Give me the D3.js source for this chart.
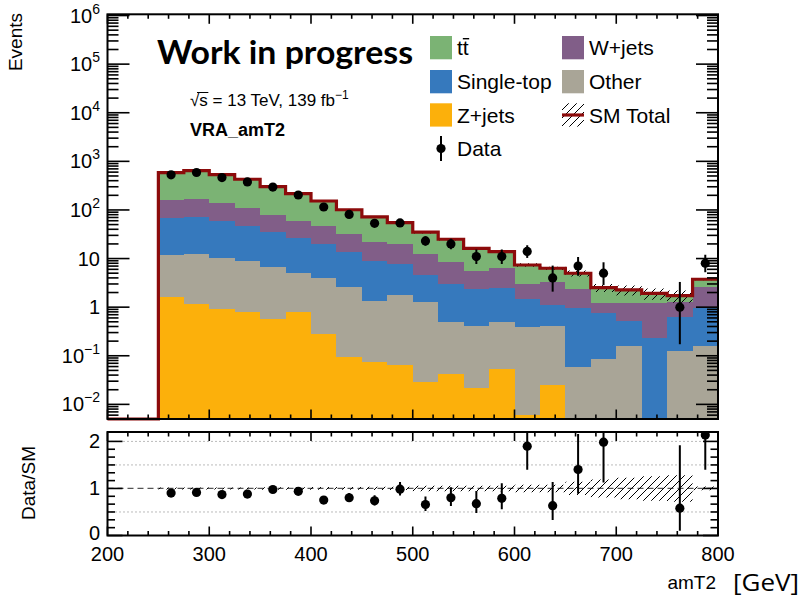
<!DOCTYPE html>
<html>
<head>
<meta charset="utf-8">
<script src="https://cdn.jsdelivr.net/npm/d3@7"></script>
<style>
  html, body { margin: 0; padding: 0; background: #fff; }
  svg { display: block; font-family: "Liberation Sans", Arial, Helvetica, sans-serif; }
</style>
</head>
<body>
<svg id="chart" width="808" height="599"></svg>
<script>
// ---- amT2 distribution in VRA: bin edges [GeV] ----
const binEdges = [200, 225, 250, 275, 300, 325, 350, 375, 400, 425, 450, 475, 500,
                  525, 550, 575, 600, 625, 650, 675, 700, 725, 750, 775, 800];

// ---- expected events per bin, by process ----
const ttbar     = [0, 0, 424, 478, 395, 317, 224, 157, 106, 69.4, 50.2, 35.1, 22.3, 16.3, 10.7, 7.6, 4.42, 3.06, 2.62, 1.32, 1.02, 0.73, 0.42, 1.11];
const wjets     = [0, 0, 91.5, 95.2, 77.6, 63.5, 43.0, 32.5, 27.2, 17.7, 12.8, 11.85, 8.0, 5.63, 3.22, 3.86, 1.49, 2.14, 1.42, 0.43, 0.72, 0.971, 0.681, 1.69];
const singleTop = [0, 0, 57.6, 58.2, 49.3, 38.6, 28.1, 21.9, 15.7, 11.3, 7.46, 6.09, 3.30, 2.51, 1.93, 1.95, 1.07, 0.694, 0.889, 0.686, 0.361, 0.229, 0.492, 0.79];
const other     = [0, 0, 10.26, 11.44, 9.19, 8.12, 6.14, 4.18, 3.71, 2.48, 1.27, 1.70, 1.27, 0.447, 0.388, 0.451, 0.391, 0.391, 0.0597, 0.0847, 0.159, 0, 0.127, 0.159];
const zjets     = [0, 0, 1.64, 1.16, 0.906, 0.807, 0.571, 0.807, 0.277, 0.0944, 0.0734, 0.0647, 0.0293, 0.0416, 0.0221, 0.0527, 0.006, 0.0251, 0, 0, 0, 0, 0, 0];

// relative statistical uncertainty on the SM total
const mcRelErr  = [0, 0, 0.02, 0.02, 0.02, 0.02, 0.025, 0.025, 0.03, 0.03, 0.035, 0.035, 0.06, 0.06, 0.06, 0.06, 0.08, 0.08, 0.14, 0.19, 0.23, 0.26, 0.28, 0.04];

// ---- observed events ----
const data      = [0, 0, 527, 590, 463, 377, 295, 203, 115, 81, 53, 54, 23, 20, 11, 11, 14, 4, 7, 5, 0, 0, 1, 8];

// ---- axis ticks / labels ----
const xMajorTicks = [200, 300, 400, 500, 600, 700, 800];
const yDecades = [-2, -1, 0, 1, 2, 3, 4, 5, 6];
const ratioMajorTicks = [0, 1, 2];

const processes = [
  { key: "zjets",     label: "Z+jets",     color: "#fcb00b" },
  { key: "other",     label: "Other",      color: "#a9a597" },
  { key: "singleTop", label: "Single-top", color: "#3679bd" },
  { key: "wjets",     label: "W+jets",     color: "#815e88" },
  { key: "ttbar",     label: "tt",         color: "#7bb374" }
];
const series = { ttbar, wjets, singleTop, other, zjets };

// ---- layout ----
const frameL = 107.5, frameR = 718;
const mainTop = 14.3, mainBot = 419;
const ratTop = 432, ratBot = 535.5;
const yMin = 0.005, yMax = 1.06e6;
const totalColor = "#8c0b0b";

const svg = d3.select("#chart");
const x = d3.scaleLinear().domain([200, 800]).range([frameL, frameR]);
const y = d3.scaleLog().domain([yMin, yMax]).range([mainBot, mainTop]);
const yr = d3.scaleLinear().domain([0, 2.2]).range([ratBot, ratTop]);

// per-bin table
const rows = binEdges.slice(0, -1).map((lo, i) => {
  const r = { lo, hi: binEdges[i + 1], data: data[i], err: mcRelErr[i] };
  processes.forEach(p => { r[p.key] = series[p.key][i]; });
  r.total = processes.reduce((s, p) => s + r[p.key], 0);
  return r;
});

// 68% CL Poisson (Garwood) interval for observed counts
function poissonCdf(n, mu) {
  let term = Math.exp(-mu), sum = term;
  for (let k = 1; k <= n; k++) { term *= mu / k; sum += term; }
  return sum;
}
function bisect(f, a, b) {
  for (let i = 0; i < 80; i++) {
    const m = 0.5 * (a + b);
    if (f(a) * f(m) <= 0) b = m; else a = m;
  }
  return 0.5 * (a + b);
}
const alpha = 1 - 0.682689;
function garwood(n) {
  const lo = n === 0 ? 0 : bisect(mu => poissonCdf(n - 1, mu) - (1 - alpha / 2), 0, n);
  const hi = bisect(mu => poissonCdf(n, mu) - alpha / 2, n, n + 10 * Math.sqrt(n) + 10);
  return [lo, hi];
}
rows.forEach(r => { [r.dataLo, r.dataHi] = garwood(r.data); });

// ---- defs: clip paths and hatch ----
const defs = svg.append("defs");
defs.append("clipPath").attr("id", "clipMain").append("rect")
  .attr("x", frameL).attr("y", mainTop).attr("width", frameR - frameL).attr("height", mainBot - mainTop);
defs.append("clipPath").attr("id", "clipRatio").append("rect")
  .attr("x", frameL).attr("y", ratTop).attr("width", frameR - frameL).attr("height", ratBot - ratTop);
const pat = defs.append("pattern").attr("id", "hatch")
  .attr("patternUnits", "userSpaceOnUse").attr("width", 8).attr("height", 8);
pat.append("path").attr("d", "M-2,2 L2,-2 M0,8 L8,0 M6,10 L10,6")
  .attr("stroke", "#000").attr("stroke-width", 1).attr("fill", "none");

// ---- main panel: stacked backgrounds ----
const stacked = d3.stack().keys(processes.map(p => p.key))(rows);
const clampY = v => y(Math.max(v, yMin));
const stepArea = d3.area()
  .x(d => x(d.x)).y0(d => clampY(d.v0)).y1(d => clampY(d.v1));
const stepPts = (arr, f0, f1) => arr.flatMap((r, i) => [
  { x: r.lo, v0: f0(r, i), v1: f1(r, i) }, { x: r.hi, v0: f0(r, i), v1: f1(r, i) }]);

const gMain = svg.append("g").attr("clip-path", "url(#clipMain)");
stacked.forEach((layer, li) => {
  gMain.append("path")
    .attr("d", stepArea(stepPts(rows, (r, i) => layer[i][0], (r, i) => layer[i][1])))
    .attr("fill", processes[li].color)
    .attr("shape-rendering", "crispEdges");
});

// SM total outline
const totalLine = d3.line().x(d => x(d.x)).y(d => clampY(d.v1));
svg.append("path")
  .attr("d", totalLine(stepPts(rows, r => r.total, r => r.total)))
  .attr("fill", "none").attr("stroke", totalColor).attr("stroke-width", 3.2)
  .attr("stroke-linejoin", "miter");

// SM uncertainty band
gMain.append("path")
  .attr("d", stepArea.defined(d => d.v1 > 0)(stepPts(rows,
    r => r.total * (1 - r.err), r => r.total * (1 + r.err))))
  .attr("fill", "url(#hatch)");
stepArea.defined(() => true);

// data
const obs = rows.filter(r => r.data > 0);
const gData = svg.append("g").attr("clip-path", "url(#clipMain)");
gData.selectAll("line").data(obs).join("line")
  .attr("x1", r => x((r.lo + r.hi) / 2)).attr("x2", r => x((r.lo + r.hi) / 2))
  .attr("y1", r => clampY(r.dataLo)).attr("y2", r => clampY(r.dataHi))
  .attr("stroke", "#000").attr("stroke-width", 2);
gData.selectAll("circle").data(obs).join("circle")
  .attr("cx", r => x((r.lo + r.hi) / 2)).attr("cy", r => y(r.data))
  .attr("r", 4.6).attr("fill", "#000");

// ---- ratio panel ----
const gRatio = svg.append("g").attr("clip-path", "url(#clipRatio)");
[0.5, 1.5, 2].forEach(v => {
  gRatio.append("line").attr("x1", frameL).attr("x2", frameR)
    .attr("y1", yr(v)).attr("y2", yr(v))
    .attr("stroke", "#777").attr("stroke-width", 1).attr("stroke-dasharray", "1,3");
});
gRatio.append("line").attr("x1", frameL).attr("x2", frameR)
  .attr("y1", yr(1)).attr("y2", yr(1))
  .attr("stroke", "#555").attr("stroke-width", 1.2).attr("stroke-dasharray", "6,4");

const ratioBand = d3.area().defined(d => d.on)
  .x(d => x(d.x)).y0(d => yr(d.v0)).y1(d => yr(d.v1));
gRatio.append("path")
  .attr("d", ratioBand(rows.flatMap(r => [
    { x: r.lo, v0: 1 - r.err, v1: 1 + r.err, on: r.total > 0 },
    { x: r.hi, v0: 1 - r.err, v1: 1 + r.err, on: r.total > 0 }])))
  .attr("fill", "url(#hatch)");

const ratioPts = rows.filter(r => r.data > 0 && r.total > 0);
gRatio.selectAll("line.err").data(ratioPts).join("line").attr("class", "err")
  .attr("x1", r => x((r.lo + r.hi) / 2)).attr("x2", r => x((r.lo + r.hi) / 2))
  .attr("y1", r => yr(r.dataLo / r.total)).attr("y2", r => yr(r.dataHi / r.total))
  .attr("stroke", "#000").attr("stroke-width", 2);
gRatio.selectAll("circle").data(ratioPts).join("circle")
  .attr("cx", r => x((r.lo + r.hi) / 2)).attr("cy", r => yr(r.data / r.total))
  .attr("r", 4.6).attr("fill", "#000");

// ---- frames and ticks ----
function frame(top, bot) {
  svg.append("rect").attr("x", frameL).attr("y", top)
    .attr("width", frameR - frameL).attr("height", bot - top)
    .attr("fill", "none").attr("stroke", "#000").attr("stroke-width", 2);
}
function tick(x1, y1, x2, y2) {
  svg.append("line").attr("x1", x1).attr("y1", y1).attr("x2", x2).attr("y2", y2)
    .attr("stroke", "#000").attr("stroke-width", 1.6);
}
function xTicks(top, bot, majLen, minLen) {
  d3.range(200, 801, 20).forEach(v => {
    const len = xMajorTicks.includes(v) ? majLen : minLen;
    tick(x(v), bot, x(v), bot - len);
    tick(x(v), top, x(v), top + len);
  });
}
frame(mainTop, mainBot);
frame(ratTop, ratBot);
xTicks(mainTop, mainBot, 9.5, 4.5);
xTicks(ratTop, ratBot, 9, 4.5);

// log ticks on the main panel
const logTicks = [];
for (let d = -3; d <= 6; d++) {
  for (let k = 1; k <= 9; k++) {
    const v = k * Math.pow(10, d);
    if (v >= yMin * 0.999 && v <= yMax) logTicks.push({ v, major: k === 1 });
  }
}
logTicks.forEach(t => {
  const len = t.major ? 22 : 11;
  tick(frameL, y(t.v), frameL + len, y(t.v));
  tick(frameR, y(t.v), frameR - len, y(t.v));
});
// ratio ticks every 1/6
d3.range(0, 13).forEach(i => {
  const v = i / 6;
  const len = i % 6 === 0 ? 15 : 7.5;
  tick(frameL, yr(v), frameL + len, yr(v));
  tick(frameR, yr(v), frameR - len, yr(v));
});

// ---- tick labels ----
const lab = svg.append("g").attr("font-size", 20).attr("fill", "#000");
yDecades.forEach(d => {
  const t = lab.append("text").attr("x", 100).attr("y", y(Math.pow(10, d)) + 7)
    .attr("text-anchor", "end");
  if (d === 0) t.text("1");
  else if (d === 1) t.text("10");
  else {
    t.append("tspan").text("10");
    t.append("tspan").attr("font-size", 14).attr("dy", -9)
      .text(d < 0 ? "\u2212" + Math.abs(d) : String(d));
  }
});
ratioMajorTicks.forEach(v => {
  lab.append("text").attr("x", 100).attr("y", yr(v) + (v === 0 ? 4.5 : 7))
    .attr("text-anchor", "end").text(v);
});
xMajorTicks.forEach(v => {
  lab.append("text").attr("x", x(v)).attr("y", 560.5)
    .attr("text-anchor", "middle").text(v);
});

// ---- axis titles ----
svg.append("text").attr("transform", "translate(21.5,13) rotate(-90)")
  .attr("text-anchor", "end").attr("font-size", 19).text("Events");
svg.append("text").attr("transform", "translate(35,483) rotate(-90)")
  .attr("text-anchor", "middle").attr("font-size", 19).text("Data/SM");
svg.append("text").attr("x", 716).attr("y", 589).attr("text-anchor", "end")
  .attr("font-size", 19).text("amT2");
svg.append("text").attr("x", 733).attr("y", 591)
  .attr("font-family", "'Open Sans', 'Noto Sans', sans-serif").attr("font-size", 23)
  .attr("textLength", 66).attr("lengthAdjust", "spacingAndGlyphs")
  .text("[GeV]");

// ---- labels inside the plot ----
svg.append("text").attr("x", 157).attr("y", 64)
  .attr("font-family", "Lato, 'Open Sans', sans-serif").attr("font-weight", 700)
  .attr("font-size", 32).attr("textLength", 256).attr("lengthAdjust", "spacingAndGlyphs")
  .text("Work in progress");

const energy = svg.append("text").attr("x", 190).attr("y", 106).attr("font-size", 17);
energy.append("tspan").text("\u221A");
energy.append("tspan").text("s");
energy.append("tspan").text(" = 13 TeV, 139 fb");
energy.append("tspan").attr("font-size", 12).attr("dy", -7).text("\u22121");
{
  const node = energy.node();
  const sx = node.getStartPositionOfChar(1).x;
  const sw = node.getSubStringLength(1, 1);
  const rx = node.getStartPositionOfChar(0).x;
  const rw = node.getSubStringLength(0, 1);
  svg.append("line").attr("x1", rx + rw * 0.75).attr("x2", sx + sw + 0.5)
    .attr("y1", 92.5).attr("y2", 92.5).attr("stroke", "#000").attr("stroke-width", 1);
}
svg.append("text").attr("x", 190).attr("y", 136).attr("font-size", 18)
  .attr("font-weight", 700).text("VRA_amT2");

// ---- legend ----
const leg = svg.append("g").attr("font-size", 21);
const legendItems = [
  { p: processes[4], col: 0, row: 0 },
  { p: processes[3], col: 1, row: 0 },
  { p: processes[2], col: 0, row: 1 },
  { p: processes[1], col: 1, row: 1 },
  { p: processes[0], col: 0, row: 2 }
];
const legX = [430, 562], legY = [47.7, 81.7, 115, 148.5];
legendItems.forEach(it => {
  const cx = legX[it.col], cy = legY[it.row];
  leg.append("rect").attr("x", cx).attr("y", cy - 11.7).attr("width", 22).attr("height", 23.3)
    .attr("fill", it.p.color);
  const t = leg.append("text").attr("x", cx + 27).attr("y", cy + 7.5).text(it.p.label);
  if (it.p.key === "ttbar") {
    const node = t.node();
    const px = node.getStartPositionOfChar(1).x;
    const pw = node.getSubStringLength(1, 1);
    leg.append("line").attr("x1", px).attr("x2", px + pw + 0.5)
      .attr("y1", cy - 9).attr("y2", cy - 9).attr("stroke", "#000").attr("stroke-width", 1.4);
  }
});
// SM Total entry
{
  const cx = legX[1], cy = legY[2];
  leg.append("rect").attr("x", cx).attr("y", cy - 11.7).attr("width", 22).attr("height", 23.3)
    .attr("fill", "url(#hatch)");
  leg.append("line").attr("x1", cx).attr("x2", cx + 22).attr("y1", cy).attr("y2", cy)
    .attr("stroke", totalColor).attr("stroke-width", 3.2);
  leg.append("text").attr("x", cx + 27).attr("y", cy + 7.5).text("SM Total");
}
// Data entry
{
  const cx = legX[0] + 11, cy = legY[3];
  leg.append("line").attr("x1", cx).attr("x2", cx).attr("y1", cy - 12.5).attr("y2", cy + 12.5)
    .attr("stroke", "#000").attr("stroke-width", 2);
  leg.append("circle").attr("cx", cx).attr("cy", cy).attr("r", 4.6).attr("fill", "#000");
  leg.append("text").attr("x", legX[0] + 27).attr("y", cy + 7.5).text("Data");
}
</script>
</body>
</html>
